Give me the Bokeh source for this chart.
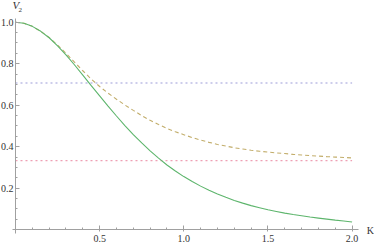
from bokeh.plotting import figure
from bokeh.models import Range1d, FixedTicker, Label
from bokeh.embed import file_html
from bokeh.resources import INLINE

# Data
K = [0.00, 0.05, 0.10, 0.15, 0.20, 0.25, 0.30, 0.35, 0.40, 0.45, 0.50,
     0.55, 0.60, 0.65, 0.70, 0.75, 0.80, 0.85, 0.90, 0.95, 1.00,
     1.05, 1.10, 1.15, 1.20, 1.25, 1.30, 1.35, 1.40, 1.45, 1.50,
     1.55, 1.60, 1.65, 1.70, 1.75, 1.80, 1.85, 1.90, 1.95, 2.00]
v_solid = [1.000, 0.995, 0.980, 0.956, 0.925, 0.886, 0.843, 0.795, 0.745, 0.694, 0.645,
           0.596, 0.548, 0.502, 0.458, 0.418, 0.380, 0.345, 0.312, 0.283, 0.256,
           0.232, 0.210, 0.190, 0.172, 0.156, 0.141, 0.128, 0.116, 0.106, 0.096,
           0.088, 0.080, 0.073, 0.067, 0.061, 0.056, 0.051, 0.046, 0.042, 0.037]
v_dashed = [1.000, 0.995, 0.980, 0.956, 0.926, 0.890, 0.850, 0.808, 0.766, 0.726, 0.690,
            0.658, 0.629, 0.601, 0.575, 0.550, 0.527, 0.507, 0.488, 0.472, 0.458,
            0.444, 0.432, 0.421, 0.411, 0.403, 0.395, 0.389, 0.383, 0.378, 0.374,
            0.370, 0.367, 0.363, 0.360, 0.357, 0.355, 0.352, 0.350, 0.348, 0.346]
h_levels = [0.707, 0.333]
h_span = [0.0, 2.0]

x_ticks = [0.5, 1.0, 1.5, 2.0]
x_tick_labels = ["0.5", "1.0", "1.5", "2.0"]
x_minor = [0.1, 0.2, 0.3, 0.4, 0.6, 0.7, 0.8, 0.9, 1.1, 1.2, 1.3, 1.4, 1.6, 1.7, 1.8, 1.9]
y_ticks = [0.2, 0.4, 0.6, 0.8, 1.0]
y_tick_labels = ["0.2", "0.4", "0.6", "0.8", "1.0"]
y_minor = [0.05, 0.1, 0.15, 0.25, 0.3, 0.35, 0.45, 0.5, 0.55, 0.65, 0.7, 0.75, 0.85, 0.9, 0.95]

p = figure(width=374, height=244, output_backend="svg", toolbar_location=None,
           x_range=Range1d(-0.0891, 2.1331), y_range=Range1d(-0.0713, 1.1046),
           min_border_left=0, min_border_right=0, min_border_top=0, min_border_bottom=0)
p.outline_line_color = None
p.xgrid.visible = False
p.ygrid.visible = False

serif = "Liberation Serif"
axis_color = "#a0a0a0"
for ax in (p.xaxis[0], p.yaxis[0]):
    ax.fixed_location = 0
    ax.axis_line_color = axis_color
    ax.major_tick_line_color = axis_color
    ax.minor_tick_line_color = axis_color
    ax.major_tick_in = 4
    ax.minor_tick_out = 0
    ax.minor_tick_in = 2
    ax.major_label_text_font = serif
    ax.major_label_text_font_size = "10px"
    ax.major_label_text_color = "#333333"

p.xaxis.major_tick_out = 2
p.yaxis.major_tick_out = 0
p.xaxis.major_label_standoff = 3
p.yaxis.major_label_standoff = 2
p.xaxis.bounds = (-0.02, 2.04)
p.yaxis.bounds = (-0.02, 1.018)

p.xaxis.ticker = FixedTicker(ticks=x_ticks, minor_ticks=x_minor)
p.yaxis.ticker = FixedTicker(ticks=y_ticks, minor_ticks=y_minor)
p.xaxis.major_label_overrides = dict(zip(x_ticks, x_tick_labels))
p.yaxis.major_label_overrides = dict(zip(y_ticks, y_tick_labels))

p.line(h_span, [h_levels[0]] * 2, line_color="#9c9cd8", line_width=1.2, line_dash="2 3")
p.line(h_span, [h_levels[1]] * 2, line_color="#eea0b4", line_width=1.2, line_dash="2 3")
p.line(K, v_dashed, line_color="#c2ad6a", line_width=1.1, line_dash="4 3")
p.line(K, v_solid, line_color="#5db56c", line_width=1.1)

p.add_layout(Label(x=-0.018, y=1.052, text="V", text_font=serif, text_font_style="italic",
                   text_font_size="11px", text_color="#333333", text_baseline="bottom"))
p.add_layout(Label(x=0.018, y=1.047, text="2", text_font=serif,
                   text_font_size="7px", text_color="#333333", text_baseline="bottom"))
p.add_layout(Label(x=2.109, y=-0.004, text="K", text_font=serif, text_align="center",
                   text_font_size="10px", text_color="#333333", text_baseline="middle"))

open("out.html", "w").write(file_html(p, INLINE))
